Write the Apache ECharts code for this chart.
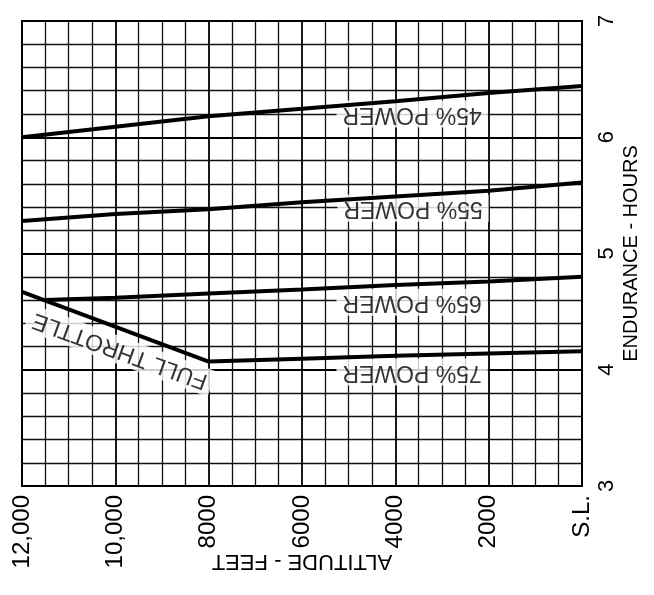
<!DOCTYPE html>
<html><head><meta charset="utf-8">
<script src="https://cdn.jsdelivr.net/npm/echarts@6/dist/echarts.min.js"></script>
<style>html,body{margin:0;padding:0;background:#fff}#c{width:654px;height:595px}</style>
</head><body><div id="c"></div>
<script>
// Altitude (ft) tick values and their labels
const altitudeTicks = [12000, 10000, 8000, 6000, 4000, 2000, 0];
const altitudeTickLabels = ['12,000', '10,000', '8000', '6000', '4000', '2000', 'S.L.'];
const enduranceTicks = [3, 4, 5, 6, 7];

// Series: altitude (ft) vs endurance (hours)
const power45Alt = [12000, 10000, 8000, 6000, 4000, 2000, 0];
const power45End = [6.00, 6.09, 6.18, 6.245, 6.31, 6.38, 6.44];
const power55Alt = [12000, 10000, 8000, 6000, 4000, 2000, 0];
const power55End = [5.28, 5.34, 5.38, 5.44, 5.49, 5.54, 5.61];
const power65Alt = [11500, 10000, 8000, 6000, 4000, 2000, 0];
const power65End = [4.60, 4.62, 4.655, 4.69, 4.73, 4.76, 4.80];
const power75Alt = [8000, 6000, 4000, 2000, 0];
const power75End = [4.07, 4.095, 4.12, 4.14, 4.16];
const fullThrottleAlt = [12000, 8000];
const fullThrottleEnd = [4.67, 4.07];

// Curve labels: text, anchor altitude, anchor endurance, rotation
const labelTexts = ['45% POWER', '55% POWER', '65% POWER', '75% POWER', 'FULL THROTTLE'];
const labelAlt = [3640, 3620, 3640, 3640, 9900];
const labelEnd = [6.20, 5.39, 4.58, 3.98, 4.165];
const labelRot = [180, 180, 180, 180, 160];

const FONT = "'Liberation Sans', Arial, Helvetica, sans-serif";
const zip = (a, b) => a.map((v, i) => [v, b[i]]);

function lineSeries(alt, end) {
  return {
    type: 'line', data: zip(alt, end), symbol: 'none', silent: true,
    lineStyle: { color: '#000', width: 4 }, z: 8
  };
}

const chart = echarts.init(document.getElementById('c'), null, { renderer: 'canvas' });
chart.setOption({
  animation: false,
  backgroundColor: '#fff',
  grid: {
    left: 22, right: 72, top: 21, bottom: 109, containLabel: false, outerBoundsMode: 'none',
    show: true, borderColor: '#000', borderWidth: 2, backgroundColor: 'transparent'
  },
  xAxis: {
    type: 'value', inverse: true, min: 0, max: 12000, interval: 2000, position: 'bottom',
    axisLine: { show: true, lineStyle: { color: '#000', width: 2 } },
    axisTick: { show: false },
    minorTick: { show: false, splitNumber: 4 },
    splitLine: { show: true, lineStyle: { color: '#000', width: 1.8 } },
    minorSplitLine: { show: true, lineStyle: { color: '#111', width: 1.3 } },
    axisLabel: {
      rotate: 90, margin: 9, color: '#000', fontSize: 24, fontFamily: FONT,
      formatter: v => { const i = altitudeTicks.indexOf(v); return i >= 0 ? altitudeTickLabels[i] : ''; }
    },
    name: 'ALTITUDE - FEET', nameLocation: 'middle', nameRotate: 180, nameGap: 64,
    nameMoveOverlap: false,
    nameTextStyle: { color: '#000', fontSize: 22, fontFamily: FONT }
  },
  yAxis: {
    type: 'value', min: 3, max: 7, interval: 1, position: 'right',
    axisLine: { show: true, lineStyle: { color: '#000', width: 2 } },
    axisTick: { show: false },
    minorTick: { show: false, splitNumber: 5 },
    splitLine: { show: true, lineStyle: { color: '#000', width: 1.8 } },
    minorSplitLine: { show: true, lineStyle: { color: '#111', width: 1.3 } },
    axisLabel: {
      rotate: 90, margin: 14, color: '#000', fontSize: 22, fontFamily: FONT,
      formatter: v => enduranceTicks.indexOf(v) >= 0 ? String(v) : ''
    },
    name: 'ENDURANCE - HOURS', nameLocation: 'middle', nameRotate: 90, nameGap: 39,
    nameMoveOverlap: false,
    nameTextStyle: { color: '#000', fontSize: 20, fontFamily: FONT }
  },
  series: [
    lineSeries(power45Alt, power45End),
    lineSeries(power55Alt, power55End),
    lineSeries(power65Alt, power65End),
    lineSeries(power75Alt, power75End),
    lineSeries(fullThrottleAlt, fullThrottleEnd),
    {
      type: 'scatter', symbolSize: 1, itemStyle: { color: 'transparent' }, silent: true, z: 6,
      data: labelTexts.map((t, i) => ({
        value: [labelAlt[i], labelEnd[i]],
        label: { show: true, position: 'inside', formatter: t, rotate: labelRot[i] }
      })),
      label: {
        color: '#000', fontSize: 23, fontFamily: FONT,
        backgroundColor: '#fff', padding: [2, 6, 2, 6]
      }
    }
  ]
});
</script></body></html>
